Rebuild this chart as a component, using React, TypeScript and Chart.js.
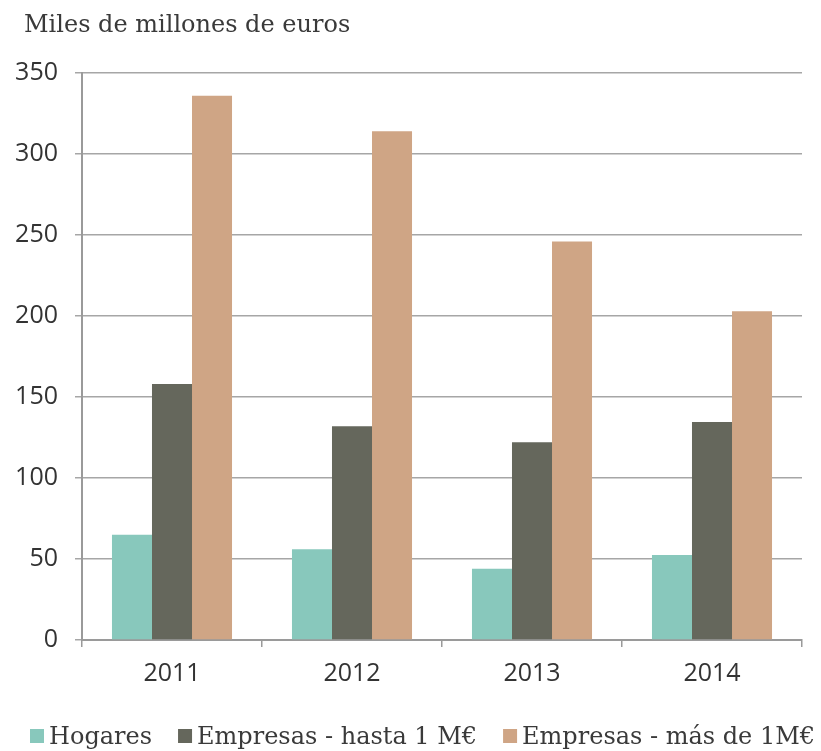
import React, { useEffect, useRef } from "react";
import { Chart, registerables } from "chart.js";

Chart.register(...registerables);

const categories = ["2011", "2012", "2013", "2014"];
const hogares = [65, 56, 44, 52.5];
const empresasHasta = [158, 132, 122, 134.5];
const empresasMas = [336, 314, 246, 203];
const seriesNames = ["Hogares", "Empresas - hasta 1 M€", "Empresas - más de 1M€"];
const seriesColors = ["#88C8BC", "#65675C", "#CFA585"];
const titleText = "Miles de millones de euros";

const textFont = "24px 'DejaVu Serif'";

const titleLegendPlugin = {
  id: "titleLegend",
  afterDraw(chart: any) {
    const ctx = chart.ctx;
    ctx.save();
    ctx.font = textFont;
    ctx.fillStyle = "#3a3a3a";
    ctx.textBaseline = "alphabetic";
    ctx.textAlign = "left";
    ctx.fillText(titleText, 24, 32);

    // legend
    const baseline = 744;
    const box = 14;
    let x = 30;
    chart.data.datasets.forEach((ds: any) => {
      ctx.fillStyle = ds.backgroundColor;
      ctx.fillRect(x, baseline - box - 1, box, box);
      x += box + 5;
      ctx.fillStyle = "#3a3a3a";
      ctx.fillText(ds.label, x, baseline);
      x += ctx.measureText(ds.label).width + 26;
    });
    ctx.restore();
  },
};

export default function App() {
  const ref = useRef<HTMLCanvasElement>(null);
  useEffect(() => {
    document.body.style.margin = "0";
    const chart = new Chart(ref.current!, {
      type: "bar",
      data: {
        labels: categories,
        datasets: [
          { label: seriesNames[0], data: hogares, backgroundColor: seriesColors[0] },
          { label: seriesNames[1], data: empresasHasta, backgroundColor: seriesColors[1] },
          { label: seriesNames[2], data: empresasMas, backgroundColor: seriesColors[2] },
        ],
      },
      plugins: [titleLegendPlugin],
      options: {
        responsive: false,
        animation: false,
        layout: { padding: { top: 73, right: 19, left: 0, bottom: 43 } },
        datasets: { bar: { categoryPercentage: 0.667, barPercentage: 1 } },
        plugins: {
          tooltip: { enabled: false },
          legend: { display: false },
          title: { display: false },
        },
        scales: {
          x: {
            grid: { drawOnChartArea: false, tickLength: 7, color: "#9a9a9a", lineWidth: 1.5 },
            border: { color: "#9a9a9a", width: 2 },
            ticks: { color: "#333", font: { family: "'Open Sans'", size: 25 }, padding: 12 },
            afterFit(scale: any) {
              scale.height = 68;
            },
          },
          y: {
            min: 0,
            max: 350,
            ticks: { stepSize: 50, color: "#333", font: { family: "'Open Sans'", size: 25 }, padding: 17 },
            grid: { color: "#a6a6a6", lineWidth: 1.5, tickLength: 7 },
            border: { color: "#9a9a9a", width: 2 },
            afterFit(scale: any) {
              scale.width = 82;
            },
          },
        },
      },
    });
    return () => chart.destroy();
  }, []);
  return <canvas ref={ref} width={821} height={751} style={{ display: "block" }} />;
}
